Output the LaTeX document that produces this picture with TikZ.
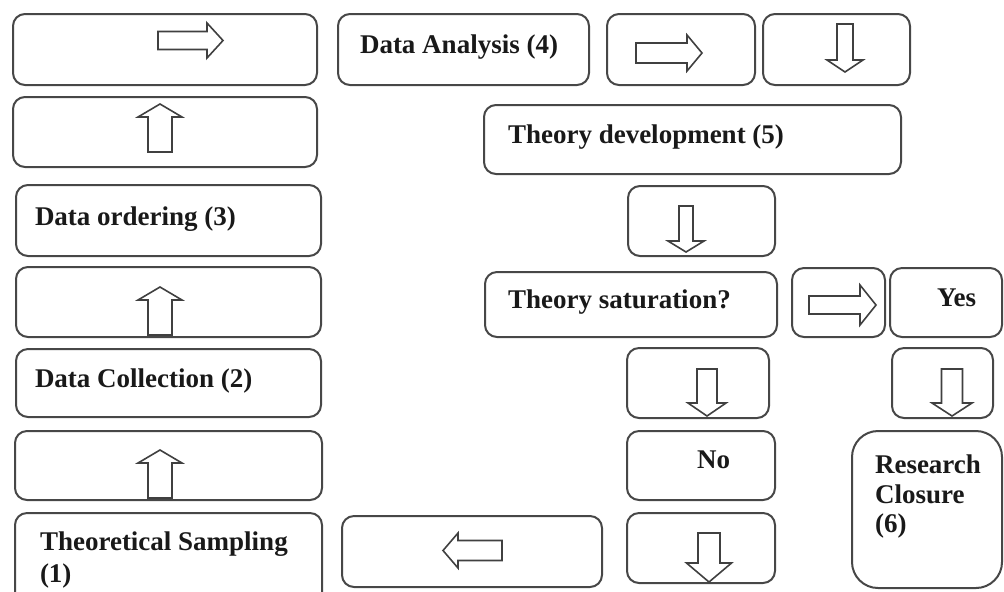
\documentclass[tikz,border=0pt]{standalone}
\usepackage{fontspec}
\setmainfont{Liberation Serif}
\begin{document}
\begin{tikzpicture}[x=0.5pt,y=-0.5pt,
  box/.style={draw=black!72, line width=1pt, rounded corners=6pt, fill=white, inner sep=0pt, outer sep=0pt},
  rbox/.style={box, rounded corners=13pt},
  lbl/.style={inner sep=0pt, outer sep=0pt, font=\fontsize{13.5}{15}\selectfont\bfseries, text=black!90},
  arr/.style={draw=black!75, line width=0.8pt, fill=white, line join=miter}]
\path[use as bounding box] (0,0) rectangle (1004,591);
\clip (0,0) rectangle (1004,591);
\newcommand\bx[6][box]{\node[#1, minimum width={(#5-#3)*0.5pt}, minimum height={(#6-#4)*0.5pt}] (#2) at ({(#3+#5)/2},{(#4+#6)/2}) {};}
% block arrow: center x, center y, rotation, length, head length, head width, shaft width
\newcommand\barrow[7]{\draw[arr,shift={(#1,#2)},rotate=#3] ({-#4/2},{-#7/2}) -- ({#4/2-#5},{-#7/2}) -- ({#4/2-#5},{-#6/2}) -- ({#4/2},0) -- ({#4/2-#5},{#6/2}) -- ({#4/2-#5},{#7/2}) -- ({-#4/2},{#7/2}) -- cycle;}
% left column
\bx{bA}{13}{14}{317}{85}
\bx{bB}{13}{97}{317}{167}
\bx{bC}{16}{185}{321}{256}
\bx{bD}{16}{267}{321}{337}
\bx{bE}{16}{349}{321}{417}
\bx{bF}{15}{431}{322}{500}
\bx{bG}{15}{513}{322}{620}
\bx{bH}{342}{516}{602}{587}
% top row
\bx{bDA}{338}{14}{589}{85}
\bx{bR1}{607}{14}{755}{85}
\bx{bD1}{763}{14}{910}{85}
\bx{bTD}{484}{105}{901}{174}
\bx{bD2}{628}{186}{775}{256}
\bx{bTS}{485}{272}{777}{337}
\bx{bR2}{792}{268}{885}{337}
\bx{bYes}{890}{268}{1002}{337}
\bx{bD3}{627}{348}{769}{418}
\bx{bD4}{892}{348}{993}{418}
\bx{bNo}{627}{431}{775}{500}
\bx{bD5}{627}{513}{775}{583}
\bx[rbox]{bRC}{852}{431}{1002}{588}
% texts
\node[lbl, anchor=base west] (tDA) at (360,53) {Data Analysis (4)};
\node[lbl, anchor=base west] (tTD) at (508,143) {Theory development (5)};
\node[lbl, anchor=base west] (tC) at (35,225) {Data ordering (3)};
\node[lbl, anchor=base west] (tE) at (35,387) {Data Collection (2)};
\node[lbl, anchor=base west] (tG1) at (40,550) {Theoretical Sampling};
\node[lbl, anchor=base west] (tG2) at (40,582) {(1)};
\node[lbl, anchor=base west] (tTS) at (508,308) {Theory saturation?};
\node[lbl, anchor=base west] (tYes) at (937,306) {Yes};
\node[lbl, anchor=base west] (tNo) at (697,468) {No};
\node[lbl, anchor=base west] (tRC1) at (875,473) {Research};
\node[lbl, anchor=base west] (tRC2) at (875,503) {Closure};
\node[lbl, anchor=base west] (tRC3) at (875,532) {(6)};
% block arrows
\barrow{190.5}{40.5}{0}{65}{16}{35}{18}
\barrow{160}{128}{90}{48}{13}{44}{24}
\barrow{160}{311}{90}{48}{13}{44}{24}
\barrow{160}{474}{90}{48}{13}{44}{24}
\barrow{669}{53}{0}{66}{15}{36}{20}
\barrow{845}{48}{-90}{48}{12}{36}{16}
\barrow{686}{229}{-90}{46}{11}{36}{14}
\barrow{842.5}{305}{0}{67}{16}{40}{18}
\barrow{707}{392.5}{-90}{47}{13}{38}{20}
\barrow{952}{392.5}{-90}{47}{13}{40}{21}
\barrow{709}{557.5}{-90}{49}{19}{45}{22}
\barrow{472.5}{550.5}{180}{59}{15}{35}{20}
\end{tikzpicture}
\end{document}
